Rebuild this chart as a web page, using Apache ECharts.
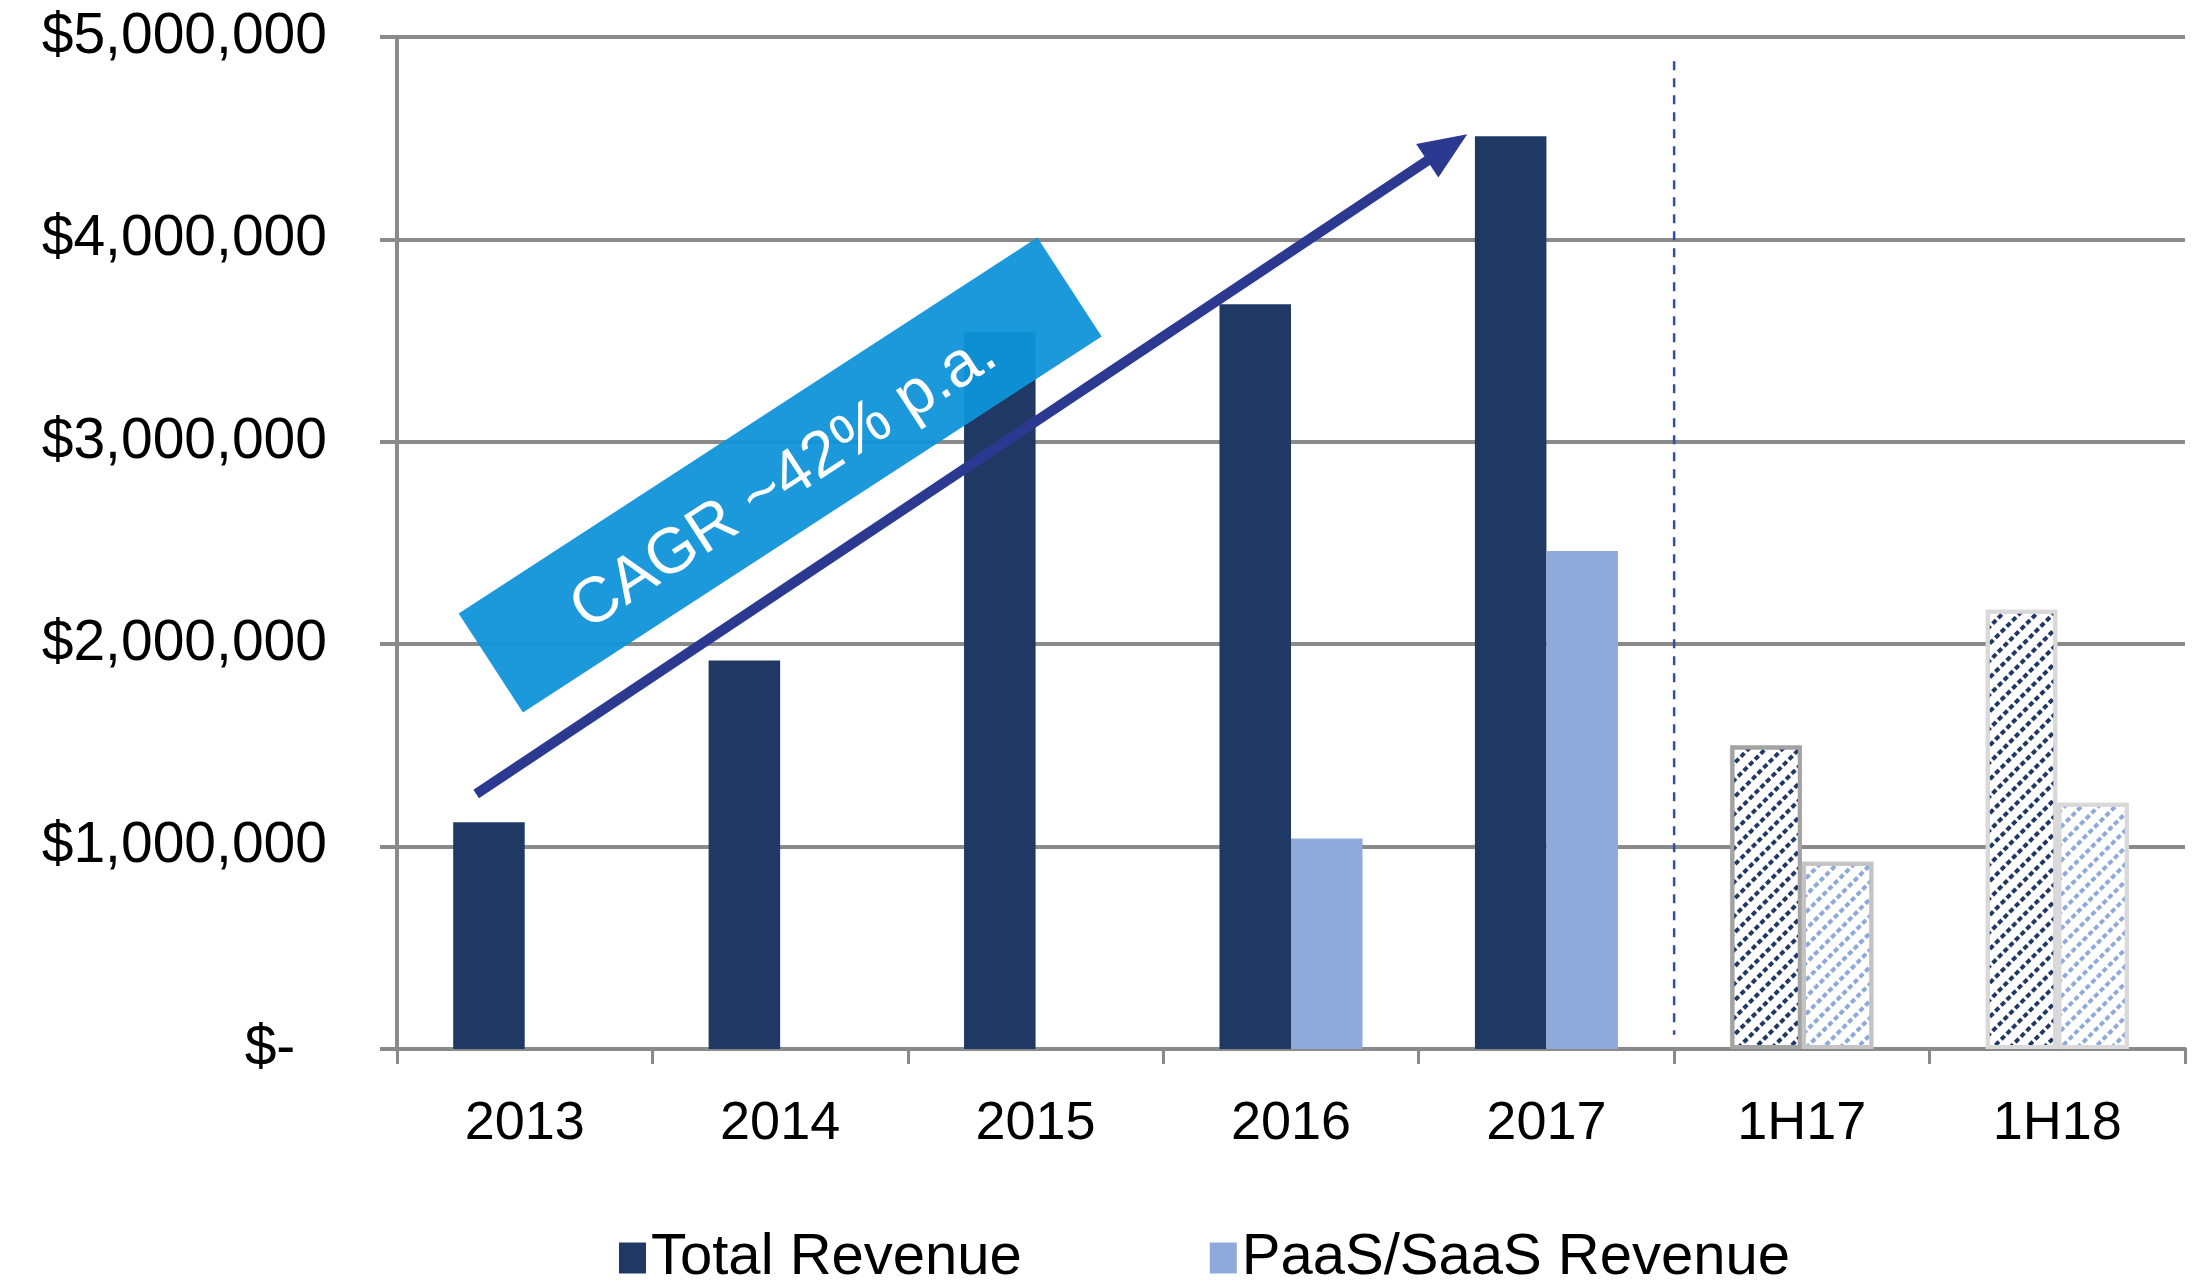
<!DOCTYPE html>
<html>
<head>
<meta charset="utf-8">
<script src="https://cdn.jsdelivr.net/npm/echarts@6/dist/echarts.min.js"></script>
<style>
  html, body { margin: 0; padding: 0; background: #fff; }
  .main { width: 2203px; height: 1281px; }
</style>
</head>
<body>
<div class="main" id="main"></div>
<script>
// chart data
var categories = ['2013', '2014', '2015', '2016', '2017', '1H17', '1H18'];
var totalRevenue = [1120000, 1920000, 3545000, 3680000, 4510000, 1500000, 2170000];
var paasRevenue = [null, null, null, 1040000, 2460000, 925000, 1217000];
var hatchedCats = ['1H17', '1H18'];
var seriesNames = ['Total Revenue', 'PaaS/SaaS Revenue'];
var annotationText = 'CAGR ~42% p.a.';

var FONT = '"Liberation Sans", Arial, sans-serif';
var NAVY = '#203864';
var LIGHT = '#8eaadb';
var GRID = '#8a8a8a';

function money(v) {
  if (v === 0) return '$-  ';
  return '$' + String(v).replace(/\B(?=(\d{3})+(?!\d))/g, ',');
}

function hatch(color) {
  return {
    symbol: 'rect',
    symbolSize: 1,
    color: color,
    dashArrayX: [5, 3],
    dashArrayY: [4, 8],
    rotation: -Math.PI / 4
  };
}

// half-year bars are hatched with a grey outline
function buildData(values, color, borders) {
  return values.map(function (v, i) {
    var k = hatchedCats.indexOf(categories[i]);
    if (v == null) return '-';
    if (k < 0) return v;
    return {
      value: v,
      itemStyle: {
        color: '#ffffff',
        borderColor: borders[k],
        borderWidth: 4,
        decal: hatch(color)
      }
    };
  });
}

var myChart = echarts.init(document.getElementById('main'));

var option = {
  animation: false,
  backgroundColor: '#ffffff',
  textStyle: { fontFamily: FONT },
  grid: { left: 397, right: 18, top: 37, bottom: 232, containLabel: false },
  legend: {
    data: seriesNames,
    left: 614,
    top: 1224,
    icon: 'rect',
    itemWidth: 27,
    itemHeight: 31,
    itemGap: 188,
    textStyle: { fontSize: 58, color: '#000', fontFamily: FONT }
  },
  xAxis: {
    type: 'category',
    data: categories,
    axisLine: { lineStyle: { color: GRID, width: 4 } },
    axisTick: { show: true, length: 15, lineStyle: { color: GRID, width: 3 } },
    axisLabel: { fontSize: 54, color: '#000', margin: 48, fontFamily: FONT }
  },
  yAxis: {
    type: 'value',
    min: 0,
    max: 5000000,
    interval: 1000000,
    axisLine: { show: true, lineStyle: { color: GRID, width: 4 } },
    axisTick: { show: true, length: 17, lineStyle: { color: GRID, width: 4 } },
    splitLine: { show: true, lineStyle: { color: GRID, width: 4 } },
    axisLabel: { fontSize: 57, color: '#000', margin: 70, fontFamily: FONT, formatter: money }
  },
  series: [{
    name: seriesNames[0],
    type: 'bar',
    barGap: '0%',
    barCategoryGap: '44%',
    itemStyle: { color: NAVY },
    data: buildData(totalRevenue, NAVY, ['#a3a3a3', '#d9d9d9'])
  }, {
    name: seriesNames[1],
    type: 'bar',
    itemStyle: { color: LIGHT },
    data: buildData(paasRevenue, LIGHT, ['#c4c4c4', '#d9d9d9'])
  }]
};

myChart.setOption(option);

// annotation positions in (category index, value) terms
function px(ci, v) {
  var x0 = myChart.convertToPixel({ xAxisIndex: 0 }, 0);
  var x1 = myChart.convertToPixel({ xAxisIndex: 0 }, 1);
  var y = myChart.convertToPixel({ yAxisIndex: 0 }, v);
  return [x0 + ci * (x1 - x0), y];
}

var a0 = px(-0.19, 1260000);
var a1 = px(3.69, 4520000);
var ang = Math.atan2(a0[1] - a1[1], a1[0] - a0[0]);
var headLen = 48, headW = 20;
var ux = Math.cos(ang), uy = -Math.sin(ang);
var base = [a1[0] - ux * headLen, a1[1] - uy * headLen];
var head = [
  a1,
  [base[0] - uy * headW, base[1] + ux * headW],
  [base[0] + uy * headW, base[1] - ux * headW]
];

var boxC = px(1.0, 2836000);
var boxAng = 33 * Math.PI / 180;
// text sits a little toward the lower edge of the box
var txtC = [boxC[0] + 4, boxC[1] + 7];

myChart.setOption({
  graphic: [{
    type: 'line',
    z: 100,
    shape: { x1: a0[0], y1: a0[1], x2: base[0] + ux * 4, y2: base[1] + uy * 4 },
    style: { stroke: '#2b3990', lineWidth: 10 }
  }, {
    type: 'polygon',
    z: 100,
    shape: { points: head },
    style: { fill: '#2b3990' }
  }, {
    type: 'rect',
    z: 90,
    x: boxC[0],
    y: boxC[1],
    rotation: boxAng,
    shape: { x: -345, y: -59, width: 690, height: 118 },
    style: { fill: '#0f94d9', opacity: 0.95 }
  }, {
    type: 'text',
    z: 95,
    x: txtC[0],
    y: txtC[1],
    rotation: boxAng,
    style: {
      text: annotationText,
      fill: '#ffffff',
      font: '64px ' + FONT,
      align: 'center',
      verticalAlign: 'middle',
      textAlign: 'center',
      textVerticalAlign: 'middle'
    }
  }, {
    type: 'line',
    z: 80,
    shape: (function () {
      var t = px(4.5, 4880000), b = px(4.5, 70000);
      return { x1: t[0], y1: t[1], x2: b[0], y2: b[1] };
    })(),
    style: { stroke: '#2f4fa8', lineWidth: 2.5, lineDash: [9, 8] }
  }]
});
</script>
</body>
</html>
